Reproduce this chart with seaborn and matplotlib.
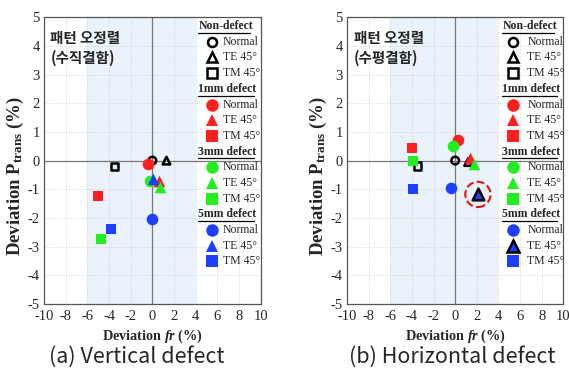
import matplotlib
matplotlib.use("Agg")
import matplotlib.pyplot as plt
import seaborn as sns
import pandas as pd

sns.set_style("white")
plt.rcParams['font.family'] = ['Liberation Serif', 'DejaVu Serif']
plt.rcParams['axes.unicode_minus'] = False
plt.rcParams['mathtext.fontset'] = 'custom'
plt.rcParams['mathtext.rm'] = 'Liberation Serif'
plt.rcParams['mathtext.it'] = 'Liberation Serif:italic:bold'
plt.rcParams['mathtext.bf'] = 'Liberation Serif:bold'

groups = ["Non-defect", "1mm defect", "3mm defect", "5mm defect"]
modes = ["Normal", "TE 45°", "TM 45°"]
group_colors = ["black", "#ff1f1f", "#22ee22", "#1f3fff"]
mode_markers = ["o", "^", "s"]

# Vertical defect (a): fr deviation, Ptrans deviation per group, per mode
vert_fr = [[0.0, 1.3, -3.5], [-0.4, 0.6, -5.0], [-0.2, 0.7, -4.7], [0.0, 0.1, -3.8]]
vert_p = [[0.0, 0.0, -0.2], [-0.12, -0.72, -1.25], [-0.72, -0.93, -2.75], [-2.02, -0.65, -2.37]]
# Horizontal defect (b)
hor_fr = [[0.0, 1.2, -3.5], [0.3, 1.4, -4.0], [-0.2, 1.7, -3.9], [-0.4, 2.1, -3.9]]
hor_p = [[0.0, -0.05, -0.18], [0.72, 0.08, 0.43], [0.5, -0.13, -0.02], [-0.95, -1.18, -1.0]]
highlight_fr = [2.1]
highlight_p = [-1.18]

titles = ["패턴 오정렬\n(수직결함)", "패턴 오정렬\n(수평결함)"]
captions = ["(a) Vertical defect", "(b) Horizontal defect"]
ticks = [-10, -8, -6, -4, -2, 0, 2, 4, 6, 8, 10]
yticks = [-5, -4, -3, -2, -1, 0, 1, 2, 3, 4, 5]


def make_df(fr, p):
    rows = []
    for gi, g in enumerate(groups):
        for mi, m in enumerate(modes):
            rows.append(dict(group=g, mode=m, fr=fr[gi][mi], p=p[gi][mi]))
    return pd.DataFrame(rows)


fig = plt.figure(figsize=(5.69, 3.81), dpi=100)
axes = [fig.add_axes([0.0773, 0.202, 0.381, 0.753]),
        fig.add_axes([0.610, 0.202, 0.380, 0.753])]

dfs = [make_df(vert_fr, vert_p), make_df(hor_fr, hor_p)]

for k, (ax, df) in enumerate(zip(axes, dfs)):
    ax.axvspan(-6, 4, color="#eaf2fb", zorder=0, lw=0)
    ax.set_xlim(-10, 10)
    ax.set_ylim(-5, 5)
    ax.set_xticks(ticks)
    ax.set_yticks(yticks)
    ax.grid(True, color="#cccccc", linestyle=":", linewidth=0.6, zorder=0.5)
    ax.axhline(0, color="#777777", lw=0.9, zorder=1)
    ax.axvline(0, color="#777777", lw=0.9, zorder=1)
    for sp in ax.spines.values():
        sp.set_color("#555555")
        sp.set_linewidth(0.9)
    ax.tick_params(axis='both', labelsize=10.5, direction="in", length=3,
                   width=0.8, color="#555555")
    ax.tick_params(axis='x', pad=4.5)
    ax.tick_params(axis='y', pad=3)

    for gi, g in enumerate(groups):
        for mi, m in enumerate(modes):
            sub = df[(df.group == g) & (df["mode"] == m)]
            if gi == 0:
                sns.scatterplot(data=sub, x="fr", y="p", ax=ax, marker=mode_markers[mi],
                                s=30, facecolor="none", edgecolor="black", linewidth=1.8,
                                zorder=3, legend=False)
            else:
                ec = group_colors[gi]
                lw = 0
                if k == 1 and gi == 3 and mi == 1:
                    ec = "black"
                    lw = 1.8
                sns.scatterplot(data=sub, x="fr", y="p", ax=ax, marker=mode_markers[mi],
                                s=70 if mi != 2 else 55, color=group_colors[gi],
                                edgecolor=ec, linewidth=lw, zorder=4 if gi != 3 else 5,
                                legend=False)
    if k == 1:
        ax.scatter(highlight_fr, highlight_p, s=330, facecolors="none",
                   edgecolors="#ee1111", linewidths=1.5, linestyles="--", zorder=6)

    ax.set_xlabel(r"Deviation $\mathit{fr}$ (%)", fontsize=10.3, fontweight="bold", labelpad=3)
    ax.set_ylabel(r"Deviation P$_{\mathbf{trans}}$ (%)", fontsize=13.5, fontweight="bold")
    ax.yaxis.set_label_coords(-0.085, 0.445)

    ax.text(0.03, 0.955, titles[k], transform=ax.transAxes, va="top", ha="left",
            fontsize=10.5, fontweight="bold", family=["Noto Sans CJK KR", "DejaVu Sans"],
            linespacing=1.25, zorder=7)

    # custom legend
    mx = 0.774 if k == 0 else 0.769
    tx = 0.826 if k == 0 else 0.833
    hx = 0.712 if k == 0 else 0.718
    y = 0.969
    dy = 0.0547
    for gi, g in enumerate(groups):
        ax.text(hx, y, g, transform=ax.transAxes, fontsize=8.5, fontweight="bold",
                va="center", ha="left", zorder=7)
        hw = 0.240 if gi == 0 else 0.255
        ax.plot([hx, hx + hw], [y - 0.024, y - 0.024], transform=ax.transAxes,
                color="black", lw=0.9, clip_on=False, zorder=7)
        y -= dy
        for mi, m in enumerate(modes):
            if gi == 0:
                ax.plot([mx], [y], transform=ax.transAxes, marker=mode_markers[mi], ms=6.5,
                        mfc="none", mec="black", mew=1.8, ls="none", clip_on=False, zorder=7)
            else:
                ec = group_colors[gi]
                mew = 0
                if k == 1 and gi == 3 and mi == 1:
                    ec = "black"
                    mew = 1.8
                ax.plot([mx], [y], transform=ax.transAxes, marker=mode_markers[mi],
                        ms=9 if mi != 2 else 8, mfc=group_colors[gi], mec=ec, mew=mew,
                        ls="none", clip_on=False, zorder=7)
            ax.text(tx, y, m, transform=ax.transAxes, fontsize=8.5, va="center",
                    ha="left", zorder=7)
            y -= dy

fig.text(0.241, 0.063, captions[0], ha="center", va="center", fontsize=15.5,
         family=["Noto Sans CJK KR", "DejaVu Sans"], fontweight="light")
fig.text(0.794, 0.063, captions[1], ha="center", va="center", fontsize=15.5,
         family=["Noto Sans CJK KR", "DejaVu Sans"], fontweight="light")

fig.savefig("out.png", dpi=100)
